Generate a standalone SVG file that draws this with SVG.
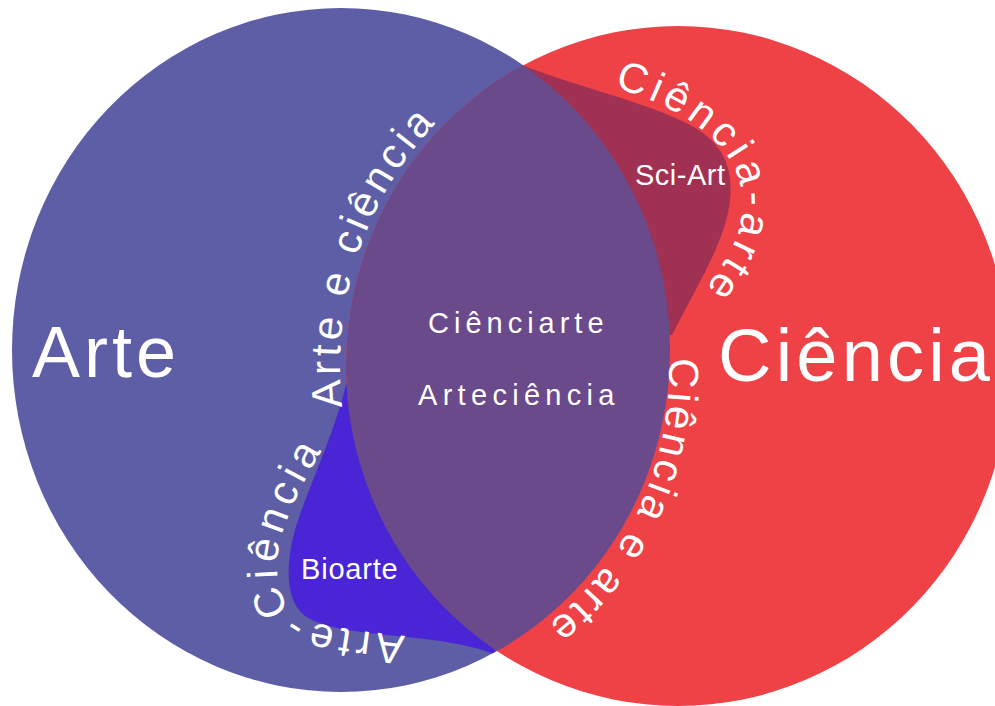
<svg xmlns="http://www.w3.org/2000/svg" width="995" height="706" viewBox="0 0 995 706">
<style>
  text { font-family: "Liberation Sans", Arial, sans-serif; fill: #ffffff; }
  .big { font-size: 72px; }
  .mid { font-size: 29px; }
  .arc { font-size: 42px; }
</style>
<defs>
  <clipPath id="clipL"><ellipse cx="341" cy="350" rx="329" ry="342"/></clipPath>
  <clipPath id="clipR"><ellipse cx="678" cy="366" rx="332" ry="340"/></clipPath>
  <path id="pAE" d="M 342.7,410 A 338 348 0 0 1 485.4,80"/>
  <path id="pCA" d="M 614,88 C 660,99 712,128 732,163 C 748,193 744,228 728,255 C 718,272 708,286 698,300"/>
  <path id="pCE" d="M 668.7,358 A 306 318 0 0 1 491.7,660"/>
  <path id="pAC" d="M 405,636 C 370,632 330,628 305,620 C 285,612 277,590 277,565 C 277,535 295,495 325,445"/>
</defs>

<g id="arte">
  <ellipse cx="341" cy="350" rx="329" ry="342" fill="#5d5ea6"/>
</g>
<g id="ciencia">
  <ellipse cx="678" cy="366" rx="332" ry="340" fill="#ee4246"/>
</g>
<g id="sci-art">
  <path clip-path="url(#clipR)" fill="#a13152" d="M 522,65 C 580,88 650,103 692,126 C 725,144 733,170 730,200 C 726,240 700,280 672,335 L 560,330 L 480,60 Z"/>
</g>
<g id="bioarte">
  <path clip-path="url(#clipL)" fill="#4a25d6" d="M 346,385 C 335,430 312,480 298,520 C 285,560 284,600 305,616 C 330,633 390,634 440,641 C 465,645 482,649 494,654 L 560,500 L 400,360 Z"/>
</g>
<g id="intersecao">
  <ellipse cx="341" cy="350" rx="329" ry="342" fill="#6a4a8b" clip-path="url(#clipR)"/>
</g>

<g id="labels">
  <text class="big" x="32" y="377" letter-spacing="4">Arte</text>
  <text class="big" x="718" y="381" style="font-size:74px" letter-spacing="4.2">Ciência</text>
  <text class="mid" x="428" y="333" letter-spacing="5">Ciênciarte</text>
  <text class="mid" x="418" y="405" letter-spacing="5.3">Arteciência</text>
  <text class="mid" x="635" y="185" letter-spacing="0.5">Sci-Art</text>
  <text class="mid" x="301" y="579" letter-spacing="0.8">Bioarte</text>
</g>

<g id="curved-labels">
  <text class="arc" letter-spacing="4.1"><textPath href="#pAE" startOffset="3">Arte e ciência</textPath></text>
  <text class="arc" letter-spacing="4.8"><textPath href="#pCA">Ciência-arte</textPath></text>
  <text class="arc" letter-spacing="3.4"><textPath href="#pCE">Ciência e arte</textPath></text>
  <text class="arc" letter-spacing="5.4"><textPath href="#pAC">Arte-Ciência</textPath></text>
</g>
</svg>
